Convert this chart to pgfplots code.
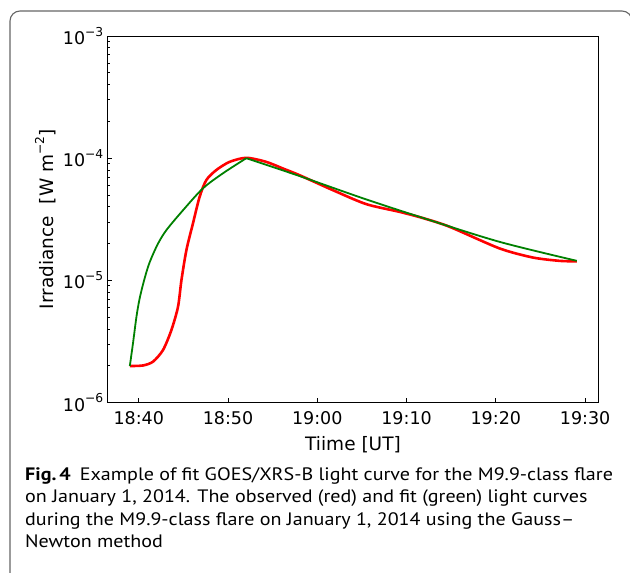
\documentclass[border=0pt]{standalone}
\usepackage{fontspec}
\setmainfont{DejaVu Sans}
\newfontfamily\capfont[FakeStretch=1.115]{PT Sans}
\usepackage{pgfplots}
\pgfplotsset{compat=1.18}
\definecolor{mplgreen}{RGB}{0,128,0}
\newcommand{\sups}[1]{\raisebox{0.48em}{\fontsize{12.3}{14}\selectfont #1}}
\begin{document}
\begin{tikzpicture}
\path[use as bounding box] (0,0) rectangle (630pt,-573pt);
\draw[line width=1.1pt, color=black!60, rounded corners=10pt] (10pt,-590pt) -- (10pt,-11pt) -- (632pt,-11pt) -- (632pt,-590pt);
\begin{axis}[
  at={(107.5pt,-402.5pt)}, anchor=south west,
  width=491pt, height=366.5pt, scale only axis,
  xmin=36.5, xmax=91.5, ymode=log, ymin=1e-6, ymax=1e-3,
  xtick={40,50,60,70,80,90},
  xticklabels={18:40,18:50,19:00,19:10,19:20,19:30},
  ytick={1e-6,1e-5,1e-4,1e-3},
  yticklabels={10\sups{−6},10\sups{−5},10\sups{−4},10\sups{−3}},
  tick align=inside, xtick pos=left, ytick pos=left,
  major tick length=5pt, minor tick length=3pt,
  axis line style={line width=1.0pt},
  every tick/.style={black, line width=0.9pt},
  tick label style={font=\fontsize{17.5}{20}\selectfont},
  xticklabel style={inner sep=0pt, yshift=-9.2pt, anchor=north},
  yticklabel style={inner sep=0pt, xshift=-4pt, anchor=east},
  xlabel={Tiime [UT]},
  ylabel={Irradiance\ \ [W m\sups{−2}]},
  label style={font=\fontsize{18.5}{21}\selectfont},
  xlabel style={at={(axis description cs:0.5,-0.1296)}, anchor=base, inner sep=0pt},
  ylabel style={at={(axis description cs:-0.111,0.5)}, anchor=base, inner sep=0pt},
  clip=false,
]
% observed (red)
\addplot[red, line width=2.6pt, smooth, tension=0.45, line join=round] coordinates {
(39.00,1.99e-6) (40.48,2.01e-6) (41.60,2.16e-6) (42.72,2.69e-6) (43.66,3.92e-6)
(44.40,6.08e-6) (44.78,1.00e-5) (45.34,1.77e-5) (46.07,2.92e-5) (46.82,4.83e-5)
(47.57,6.62e-5) (48.69,8.00e-5) (50.18,9.33e-5) (52.05,1.007e-4) (54.28,9.33e-5)
(56.14,8.24e-5) (58.01,7.26e-5) (61.73,5.48e-5) (65.47,4.21e-5) (69.19,3.64e-5)
(71.80,3.24e-5) (74.79,2.75e-5) (80.38,1.83e-5) (84.10,1.54e-5) (87.09,1.445e-5)
(89.07,1.43e-5)
};
% fit (green) rise
\addplot[mplgreen, line width=1.8pt, smooth, tension=0.5, line join=round] coordinates {
(39.00,1.99e-6) (39.36,3.07e-6) (39.74,5.01e-6) (40.11,7.16e-6) (40.67,1.045e-5)
(41.23,1.41e-5) (42.13,1.98e-5) (43.10,2.58e-5) (44.96,3.75e-5) (47.19,5.66e-5)
(49.43,7.52e-5) (52.05,1.00e-4)
};
% fit (green) decay
\addplot[mplgreen, line width=1.8pt, smooth, tension=0.5, line join=round] coordinates {
(52.05,1.00e-4) (58.01,7.14e-5) (65.47,4.60e-5) (71.80,3.25e-5) (80.38,2.07e-5)
(89.07,1.445e-5)
};
\end{axis}
\node[anchor=base west, inner sep=0pt, font=\capfont\fontsize{18}{22}\selectfont] at (25pt,-480pt) {\textbf{Fig.\,4}\hspace{0.5em}Example of fit GOES/XRS-B light curve for the M9.9-class flare};
\node[anchor=base west, inner sep=0pt, font=\capfont\fontsize{18}{22}\selectfont] at (25pt,-502.5pt) {on January 1, 2014. The observed (red) and fit (green) light curves};
\node[anchor=base west, inner sep=0pt, font=\capfont\fontsize{18}{22}\selectfont] at (25pt,-525pt) {during the M9.9-class flare on January 1, 2014 using the Gauss–};
\node[anchor=base west, inner sep=0pt, font=\capfont\fontsize{18}{22}\selectfont] at (25pt,-547.5pt) {Newton method};
\end{tikzpicture}
\end{document}
